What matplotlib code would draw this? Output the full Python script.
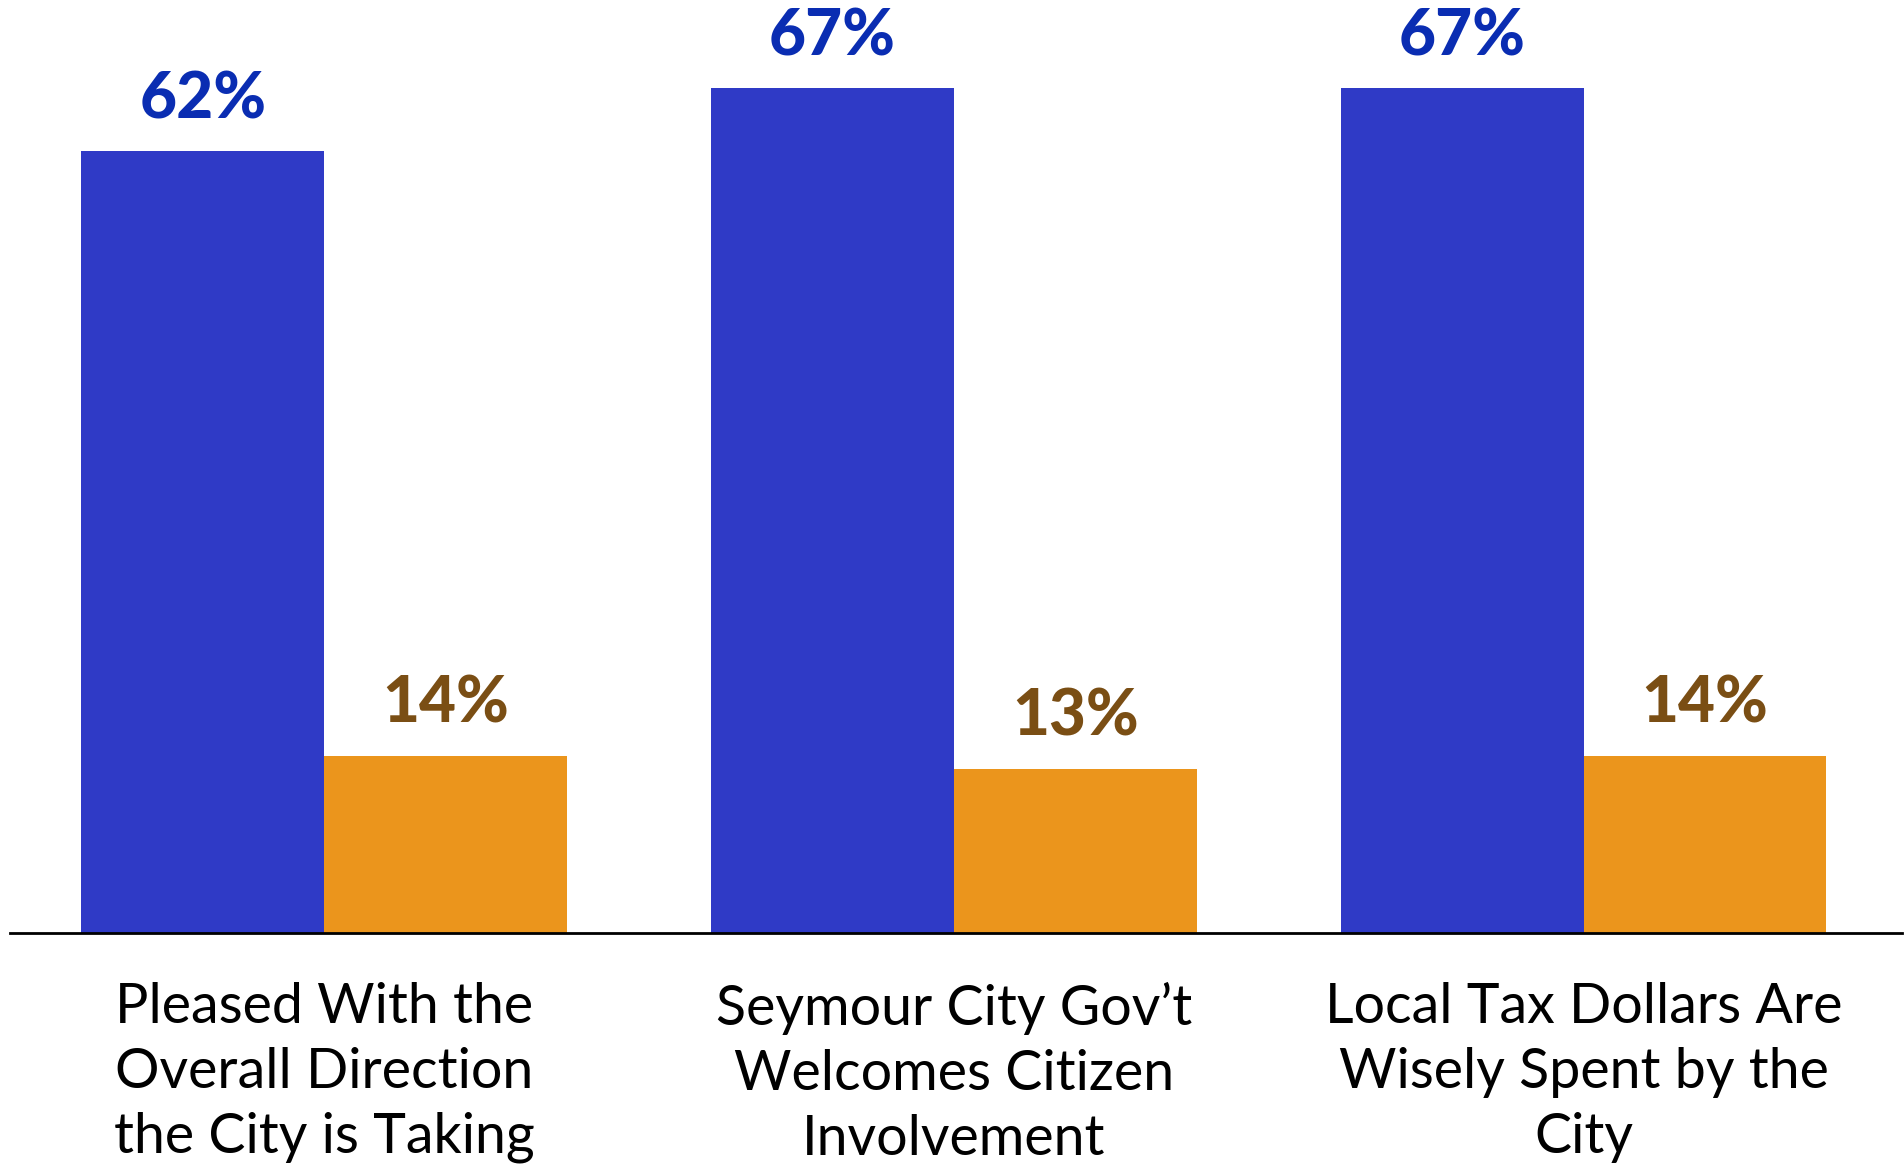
import matplotlib
matplotlib.use("Agg")
import matplotlib.pyplot as plt
import numpy as np

categories = ["Pleased With the\nOverall Direction\nthe City is Taking",
              "Seymour City Gov\u2019t\nWelcomes Citizen\nInvolvement",
              "Local Tax Dollars Are\nWisely Spent by the\nCity"]
agree = [62, 67, 67]
disagree = [14, 13, 14]

blue_bar = "#2F3AC6"
orange_bar = "#EB951C"
blue_txt = "#0A2DB2"
brown_txt = "#7A4E14"

fig = plt.figure(figsize=(19.04, 11.64), dpi=100)
ax = fig.add_axes([0.0051, 0.1988, 0.9936, 0.7577])

x = np.arange(len(categories))
w = 0.3857
b1 = ax.bar(x - w / 2, agree, width=w, color=blue_bar)
b2 = ax.bar(x + w / 2, disagree, width=w, color=orange_bar)

for rect, v in zip(b1, agree):
    ax.annotate(f"{v}%", (rect.get_x() + rect.get_width() / 2, v),
                xytext=(0, 16), textcoords="offset points", ha="center", va="bottom",
                fontsize=46, fontweight="black", family="Lato", color=blue_txt,
                annotation_clip=False)
for rect, v in zip(b2, disagree):
    ax.annotate(f"{v}%", (rect.get_x() + rect.get_width() / 2, v),
                xytext=(0, 16), textcoords="offset points", ha="center", va="bottom",
                fontsize=46, fontweight="black", family="Lato", color=brown_txt,
                annotation_clip=False)

ax.set_xlim(-0.4995, 2.505)
ax.set_ylim(0, 70)
ax.set_xticks(x)
ax.set_xticklabels(categories, fontsize=40, family="Lato", color="black", linespacing=1.34)
ax.tick_params(axis="x", length=0, pad=35.5)
ax.set_yticks([])
for s in ["top", "right", "left"]:
    ax.spines[s].set_visible(False)
ax.spines["bottom"].set_linewidth(2)
ax.spines["bottom"].set_color("black")

fig.savefig("out.png", dpi=100)
